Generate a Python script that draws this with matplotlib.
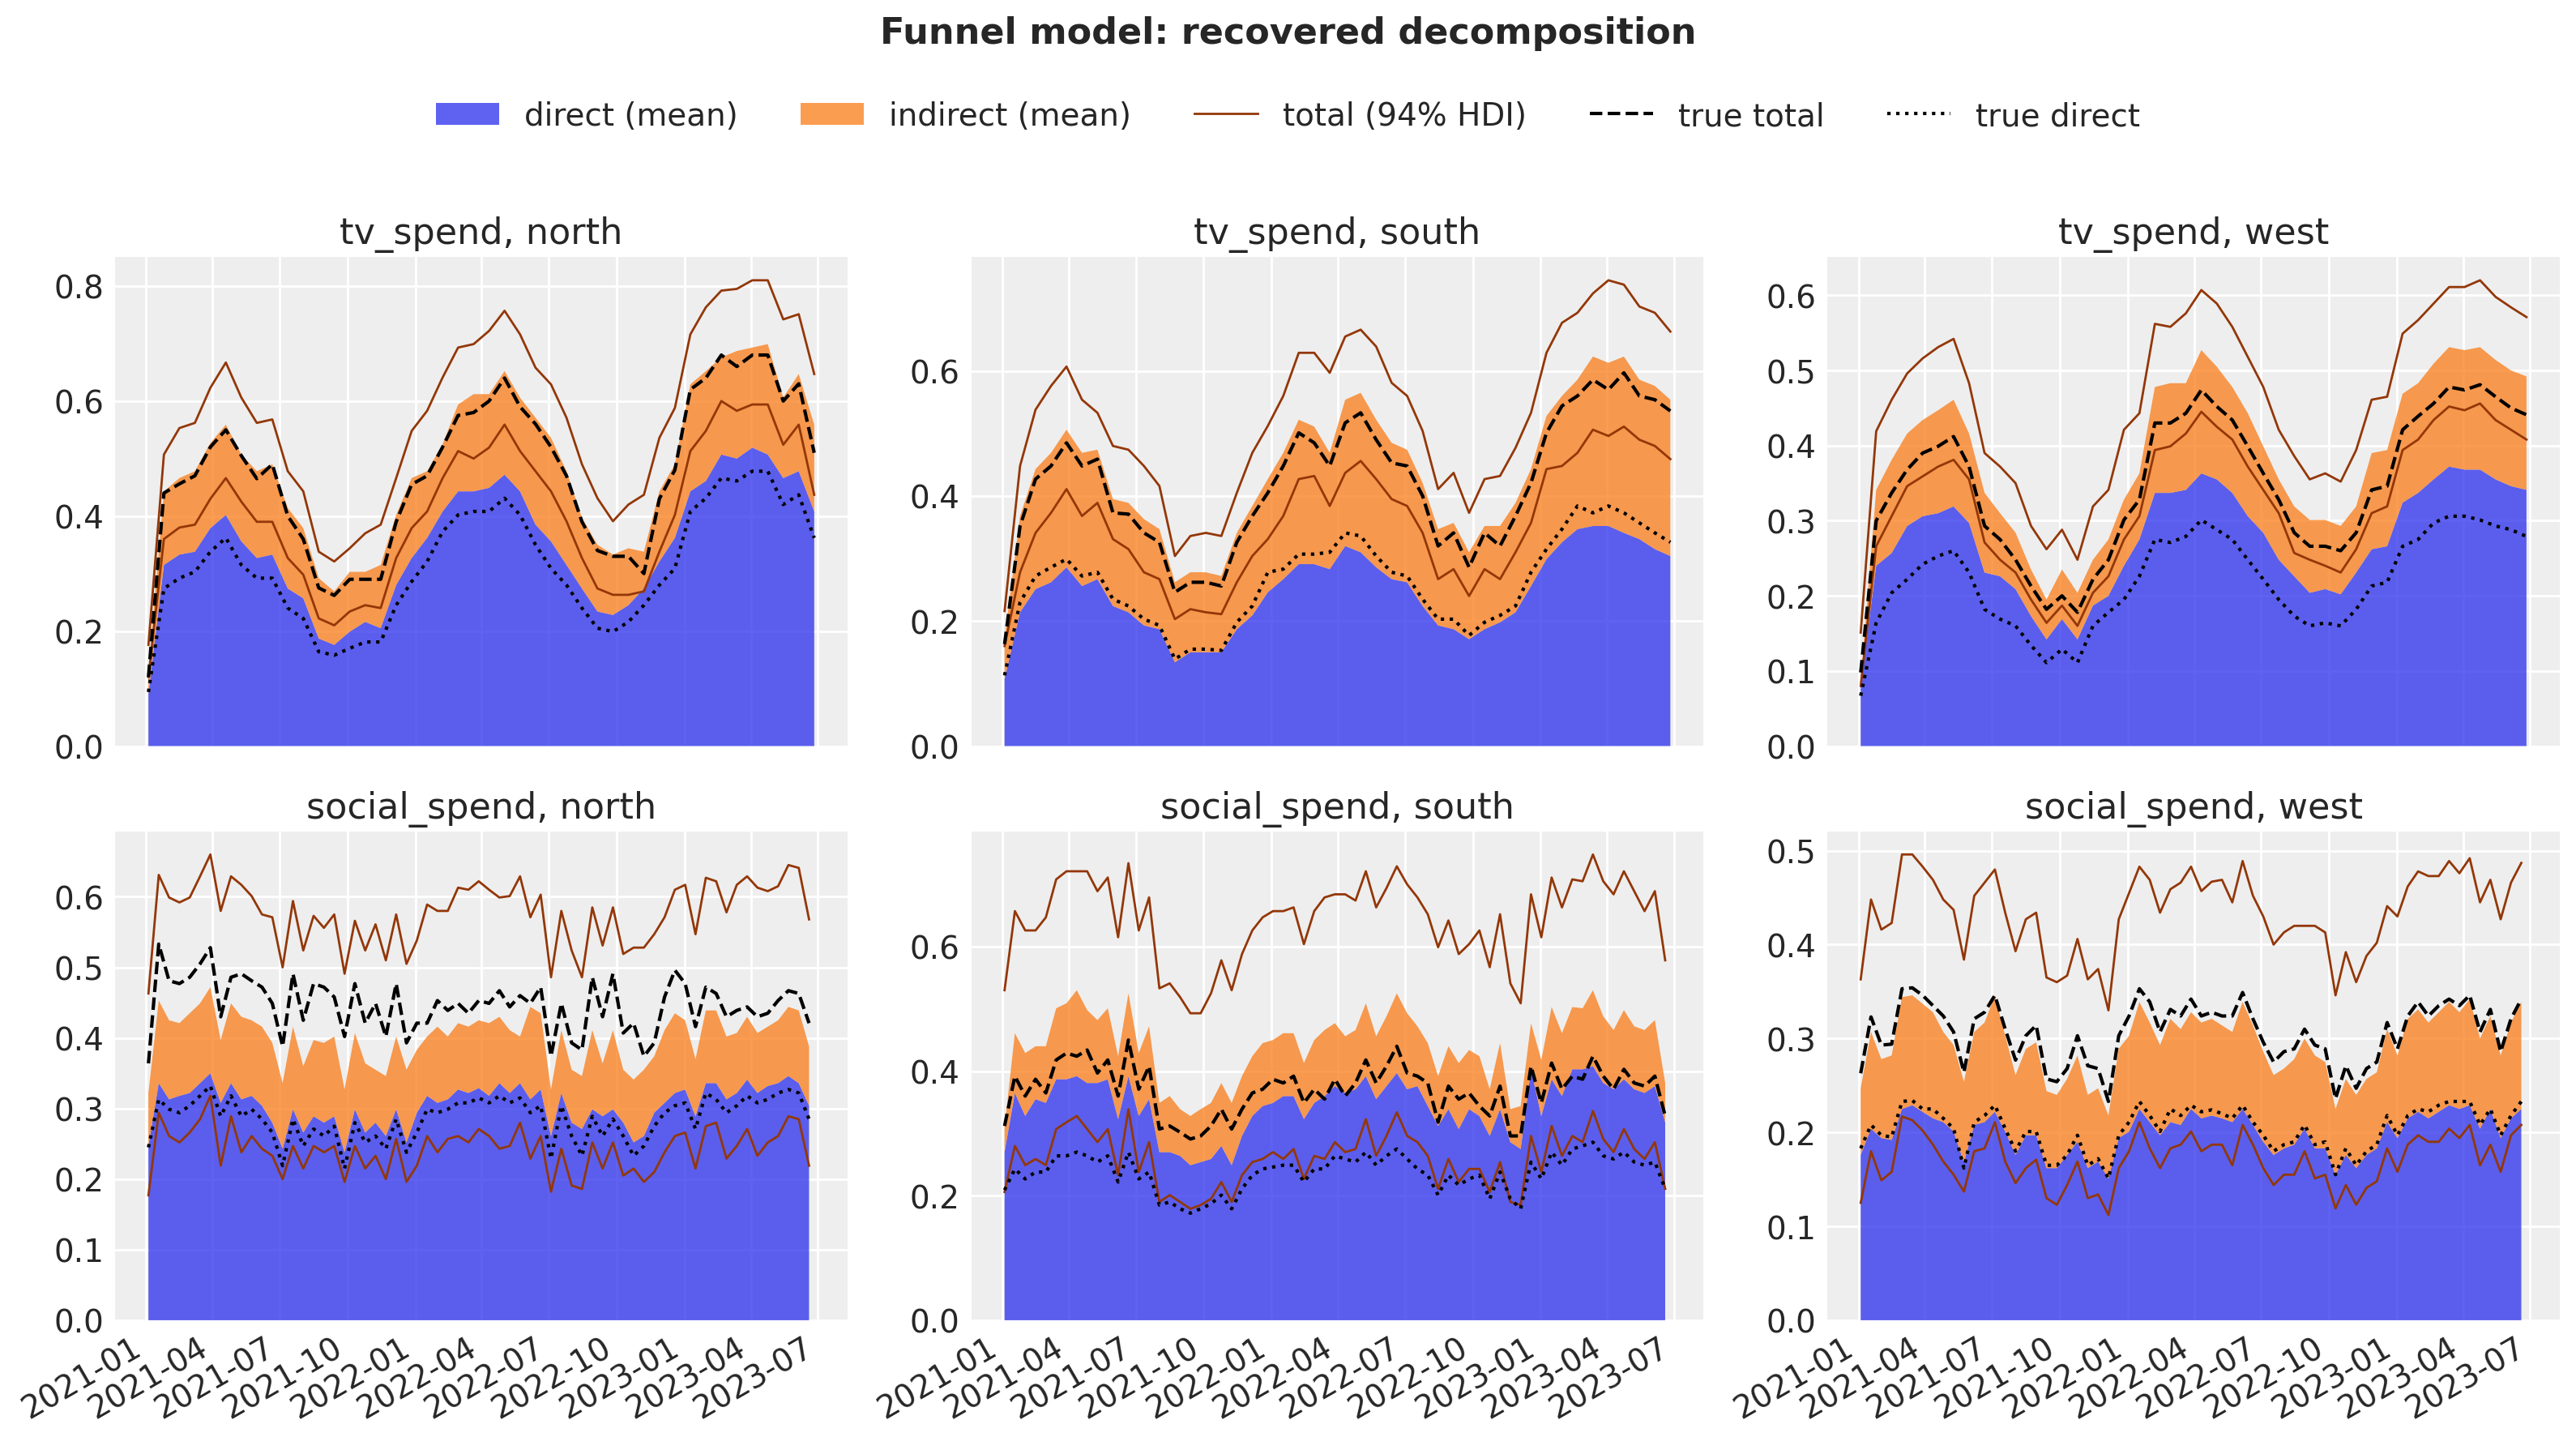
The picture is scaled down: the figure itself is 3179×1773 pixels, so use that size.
import pandas as pd
import matplotlib
matplotlib.use("Agg")
import matplotlib.pyplot as plt

# ---- style (dark grid, like arviz-darkgrid) ----
plt.rcParams.update({
    "font.family": ["DejaVu Sans"],
    "axes.facecolor": "#eeeeee",
    "axes.edgecolor": "white",
    "axes.grid": True,
    "axes.axisbelow": True,
    "grid.color": "white",
    "grid.linewidth": 1.0,
    "text.color": "0.15",
    "xtick.color": "0.15",
    "ytick.color": "0.15",
    "xtick.labelsize": 14,
    "ytick.labelsize": 14,
    "xtick.major.size": 0,
    "ytick.major.size": 0,
    "xtick.major.pad": 5,
    "ytick.major.pad": 5,
})

C_DIRECT = "#2a2eec"
C_INDIRECT = "#fa7c17"
C_HDI = "#933708"

# ---- dates: weekly series, tv read every 3 weeks, social every 2 weeks ----
weeks = pd.date_range("2021-01-04", periods=130, freq="7D")
tv_dates = weeks[::3]
social_dates = weeks[::2]

# ---- tv_spend, north ----
tv_north_direct = [0.09, 0.315, 0.333, 0.338, 0.379, 0.402, 0.356, 0.327, 0.333, 0.274, 0.257, 0.187, 0.176, 0.199, 0.216,
                   0.205, 0.28, 0.327, 0.362, 0.408, 0.443, 0.443, 0.449, 0.472, 0.443, 0.385, 0.356, 0.315, 0.274, 0.234,
                   0.228, 0.245, 0.274, 0.321, 0.362, 0.443, 0.461, 0.507, 0.50, 0.519, 0.507, 0.466, 0.478, 0.408]
tv_north_total = [0.13, 0.443, 0.466, 0.478, 0.527, 0.559, 0.507, 0.478, 0.49, 0.414, 0.379, 0.292, 0.269, 0.303, 0.303,
                  0.315, 0.402, 0.466, 0.478, 0.525, 0.594, 0.612, 0.612, 0.652, 0.606, 0.571, 0.536, 0.478, 0.397, 0.35,
                  0.333, 0.344, 0.338, 0.443, 0.49, 0.629, 0.652, 0.676, 0.687, 0.693, 0.699, 0.606, 0.647, 0.559]
tv_north_low = [0.12, 0.36, 0.38, 0.385, 0.43, 0.466, 0.425, 0.39, 0.39, 0.327, 0.298, 0.222, 0.21, 0.234, 0.245,
                0.24, 0.327, 0.379, 0.408, 0.466, 0.513, 0.50, 0.519, 0.559, 0.513, 0.478, 0.443, 0.391, 0.327, 0.274,
                0.263, 0.263, 0.269, 0.338, 0.402, 0.513, 0.548, 0.60, 0.583, 0.594, 0.594, 0.524, 0.559, 0.437]
tv_north_high = [0.176, 0.507, 0.553, 0.562, 0.623, 0.667, 0.606, 0.562, 0.568, 0.478, 0.443, 0.338, 0.321, 0.344, 0.370,
                 0.385, 0.466, 0.548, 0.583, 0.641, 0.693, 0.699, 0.722, 0.757, 0.716, 0.658, 0.629, 0.571, 0.490, 0.431,
                 0.391, 0.420, 0.437, 0.536, 0.588, 0.716, 0.763, 0.792, 0.795, 0.81, 0.81, 0.742, 0.751, 0.647]
tv_north_true_total = [0.12, 0.44, 0.456, 0.47, 0.52, 0.55, 0.505, 0.465, 0.49, 0.40, 0.36, 0.275, 0.262, 0.29, 0.29,
                       0.29, 0.39, 0.455, 0.47, 0.52, 0.575, 0.58, 0.60, 0.64, 0.59, 0.56, 0.52, 0.47, 0.39, 0.34,
                       0.33, 0.33, 0.30, 0.43, 0.48, 0.62, 0.64, 0.68, 0.66, 0.68, 0.68, 0.60, 0.63, 0.51]
tv_north_true_direct = [0.094, 0.274, 0.292, 0.303, 0.338, 0.362, 0.315, 0.292, 0.292, 0.24, 0.222, 0.164, 0.158, 0.17, 0.181,
                        0.181, 0.245, 0.286, 0.321, 0.373, 0.402, 0.408, 0.408, 0.431, 0.402, 0.35, 0.309, 0.28, 0.24, 0.205,
                        0.199, 0.216, 0.245, 0.28, 0.309, 0.408, 0.431, 0.466, 0.461, 0.478, 0.478, 0.42, 0.437, 0.362]

# ---- tv_spend, south ----
tv_south_direct = [0.107, 0.214, 0.251, 0.262, 0.286, 0.256, 0.267, 0.224, 0.214, 0.193, 0.187, 0.134, 0.15, 0.15, 0.15,
                   0.187, 0.209, 0.246, 0.267, 0.291, 0.291, 0.283, 0.32, 0.31, 0.286, 0.267, 0.262, 0.224, 0.193, 0.187,
                   0.171, 0.187, 0.198, 0.214, 0.256, 0.299, 0.326, 0.347, 0.352, 0.352, 0.341, 0.331, 0.315, 0.304]
tv_south_total = [0.171, 0.368, 0.443, 0.469, 0.506, 0.469, 0.474, 0.395, 0.389, 0.363, 0.347, 0.262, 0.278, 0.278, 0.272,
                  0.341, 0.384, 0.427, 0.469, 0.522, 0.511, 0.469, 0.554, 0.565, 0.522, 0.485, 0.474, 0.421, 0.347, 0.357,
                  0.31, 0.352, 0.352, 0.389, 0.443, 0.528, 0.56, 0.586, 0.623, 0.613, 0.623, 0.586, 0.576, 0.554]
tv_south_low = [0.16, 0.278, 0.341, 0.373, 0.411, 0.368, 0.389, 0.331, 0.315, 0.278, 0.267, 0.203, 0.219, 0.214, 0.211,
                0.262, 0.304, 0.331, 0.368, 0.427, 0.432, 0.384, 0.437, 0.456, 0.427, 0.395, 0.384, 0.341, 0.267, 0.283,
                0.24, 0.283, 0.267, 0.31, 0.357, 0.443, 0.448, 0.469, 0.506, 0.496, 0.511, 0.49, 0.48, 0.459]
tv_south_high = [0.216, 0.448, 0.538, 0.576, 0.607, 0.554, 0.533, 0.48, 0.474, 0.448, 0.416, 0.304, 0.336, 0.341, 0.336,
                 0.405, 0.469, 0.512, 0.56, 0.629, 0.629, 0.597, 0.655, 0.666, 0.639, 0.581, 0.56, 0.504, 0.411, 0.437,
                 0.373, 0.427, 0.432, 0.477, 0.533, 0.629, 0.677, 0.693, 0.724, 0.745, 0.738, 0.703, 0.693, 0.663]
tv_south_true_total = [0.163, 0.352, 0.427, 0.448, 0.485, 0.448, 0.459, 0.373, 0.371, 0.341, 0.326, 0.246, 0.262, 0.262, 0.256,
                       0.326, 0.368, 0.405, 0.448, 0.501, 0.485, 0.448, 0.517, 0.533, 0.49, 0.453, 0.448, 0.40, 0.32, 0.341,
                       0.286, 0.341, 0.32, 0.368, 0.421, 0.501, 0.544, 0.56, 0.586, 0.57, 0.597, 0.56, 0.554, 0.536]
tv_south_true_direct = [0.113, 0.23, 0.272, 0.286, 0.299, 0.272, 0.278, 0.235, 0.224, 0.203, 0.193, 0.139, 0.155, 0.155, 0.153,
                        0.198, 0.224, 0.278, 0.283, 0.307, 0.307, 0.31, 0.341, 0.336, 0.304, 0.278, 0.272, 0.235, 0.203, 0.203,
                        0.177, 0.198, 0.209, 0.224, 0.278, 0.315, 0.347, 0.384, 0.373, 0.384, 0.373, 0.357, 0.341, 0.326]

# ---- tv_spend, west ----
tv_west_direct = [0.08, 0.24, 0.257, 0.293, 0.306, 0.31, 0.319, 0.297, 0.231, 0.226, 0.209, 0.173, 0.142, 0.169, 0.142,
                  0.187, 0.20, 0.24, 0.275, 0.337, 0.337, 0.341, 0.363, 0.355, 0.337, 0.306, 0.284, 0.248, 0.226, 0.204,
                  0.209, 0.202, 0.231, 0.262, 0.266, 0.324, 0.337, 0.355, 0.372, 0.368, 0.368, 0.355, 0.346, 0.341]
tv_west_total = [0.085, 0.341, 0.381, 0.416, 0.434, 0.447, 0.461, 0.416, 0.337, 0.31, 0.284, 0.235, 0.195, 0.235, 0.204,
                 0.248, 0.275, 0.328, 0.363, 0.478, 0.483, 0.483, 0.527, 0.505, 0.478, 0.443, 0.399, 0.355, 0.319, 0.301,
                 0.301, 0.293, 0.319, 0.39, 0.394, 0.469, 0.483, 0.509, 0.531, 0.527, 0.531, 0.514, 0.50, 0.492]
tv_west_low = [0.08, 0.266, 0.306, 0.346, 0.359, 0.372, 0.381, 0.355, 0.271, 0.248, 0.231, 0.195, 0.164, 0.187, 0.16,
               0.204, 0.226, 0.275, 0.306, 0.394, 0.399, 0.416, 0.445, 0.425, 0.408, 0.372, 0.341, 0.31, 0.257, 0.248,
               0.24, 0.231, 0.262, 0.31, 0.319, 0.394, 0.408, 0.434, 0.452, 0.447, 0.456, 0.434, 0.421, 0.408]
tv_west_high = [0.151, 0.419, 0.461, 0.496, 0.516, 0.531, 0.542, 0.483, 0.39, 0.372, 0.35, 0.293, 0.262, 0.288, 0.248,
                0.319, 0.341, 0.421, 0.443, 0.562, 0.558, 0.576, 0.607, 0.589, 0.558, 0.518, 0.478, 0.421, 0.386, 0.355,
                0.363, 0.352, 0.394, 0.461, 0.465, 0.549, 0.567, 0.589, 0.611, 0.611, 0.62, 0.598, 0.584, 0.571]
tv_west_true_total = [0.098, 0.30, 0.337, 0.368, 0.39, 0.399, 0.412, 0.372, 0.293, 0.275, 0.248, 0.213, 0.182, 0.20, 0.178,
                      0.222, 0.248, 0.301, 0.328, 0.43, 0.43, 0.443, 0.474, 0.452, 0.434, 0.399, 0.363, 0.328, 0.284, 0.266,
                      0.266, 0.26, 0.284, 0.341, 0.346, 0.421, 0.439, 0.456, 0.478, 0.474, 0.481, 0.465, 0.45, 0.441]
tv_west_true_direct = [0.067, 0.164, 0.204, 0.222, 0.242, 0.253, 0.26, 0.231, 0.182, 0.169, 0.16, 0.134, 0.111, 0.129, 0.111,
                       0.16, 0.178, 0.195, 0.226, 0.275, 0.271, 0.279, 0.301, 0.288, 0.275, 0.248, 0.222, 0.195, 0.173, 0.16,
                       0.164, 0.16, 0.182, 0.213, 0.218, 0.266, 0.275, 0.297, 0.306, 0.306, 0.301, 0.293, 0.288, 0.279]

# ---- social_spend, north ----
social_north_direct = [0.247, 0.336, 0.313, 0.318, 0.322, 0.336, 0.35, 0.308, 0.336, 0.313, 0.318, 0.304, 0.28, 0.243, 0.299,
                       0.266, 0.289, 0.28, 0.289, 0.238, 0.299, 0.266, 0.28, 0.261, 0.299, 0.252, 0.294, 0.318, 0.308, 0.313,
                       0.327, 0.322, 0.329, 0.318, 0.336, 0.322, 0.336, 0.313, 0.327, 0.261, 0.322, 0.28, 0.271, 0.299,
                       0.289, 0.299, 0.28, 0.252, 0.261, 0.294, 0.308, 0.322, 0.327, 0.289, 0.336, 0.336, 0.313, 0.322,
                       0.341, 0.322, 0.332, 0.336, 0.346, 0.336, 0.304]
social_north_total = [0.322, 0.453, 0.425, 0.421, 0.435, 0.449, 0.472, 0.397, 0.449, 0.43, 0.425, 0.416, 0.393, 0.336, 0.416,
                      0.36, 0.397, 0.393, 0.402, 0.327, 0.407, 0.364, 0.355, 0.346, 0.402, 0.355, 0.383, 0.402, 0.416, 0.402,
                      0.421, 0.416, 0.425, 0.421, 0.43, 0.411, 0.402, 0.444, 0.435, 0.327, 0.411, 0.355, 0.346, 0.411,
                      0.364, 0.411, 0.355, 0.341, 0.355, 0.374, 0.411, 0.435, 0.425, 0.37, 0.439, 0.439, 0.402, 0.407,
                      0.43, 0.407, 0.416, 0.425, 0.444, 0.439, 0.388]
social_north_low = [0.177, 0.294, 0.261, 0.252, 0.266, 0.285, 0.318, 0.219, 0.289, 0.238, 0.261, 0.243, 0.233, 0.20, 0.247,
                    0.215, 0.247, 0.238, 0.247, 0.196, 0.247, 0.215, 0.233, 0.20, 0.257, 0.196, 0.219, 0.261, 0.238, 0.257,
                    0.261, 0.252, 0.271, 0.261, 0.243, 0.247, 0.28, 0.229, 0.261, 0.182, 0.243, 0.191, 0.186, 0.252,
                    0.215, 0.252, 0.205, 0.215, 0.196, 0.21, 0.238, 0.261, 0.266, 0.215, 0.275, 0.28, 0.229, 0.247,
                    0.271, 0.233, 0.252, 0.261, 0.289, 0.285, 0.219]
social_north_high = [0.463, 0.631, 0.599, 0.592, 0.599, 0.629, 0.66, 0.58, 0.629, 0.617, 0.601, 0.575, 0.571, 0.50, 0.594,
                     0.524, 0.573, 0.556, 0.575, 0.491, 0.566, 0.524, 0.561, 0.51, 0.575, 0.505, 0.538, 0.589, 0.58, 0.58,
                     0.613, 0.61, 0.622, 0.61, 0.599, 0.601, 0.629, 0.571, 0.603, 0.486, 0.58, 0.524, 0.486, 0.585,
                     0.531, 0.585, 0.519, 0.528, 0.528, 0.547, 0.571, 0.61, 0.617, 0.547, 0.627, 0.622, 0.578, 0.617,
                     0.629, 0.613, 0.608, 0.615, 0.645, 0.641, 0.568]
social_north_true_total = [0.364, 0.533, 0.481, 0.477, 0.486, 0.505, 0.528, 0.43, 0.486, 0.491, 0.481, 0.472, 0.449, 0.388,
                           0.491, 0.425, 0.477, 0.472, 0.458, 0.402, 0.477, 0.421, 0.449, 0.402, 0.477, 0.393, 0.421, 0.421,
                           0.453, 0.439, 0.449, 0.435, 0.453, 0.449, 0.467, 0.444, 0.46, 0.449, 0.472, 0.374, 0.449, 0.393,
                           0.383, 0.486, 0.43, 0.491, 0.407, 0.421, 0.374, 0.393, 0.458, 0.496, 0.477, 0.416, 0.472, 0.463,
                           0.43, 0.439, 0.444, 0.43, 0.435, 0.453, 0.467, 0.463, 0.421]
social_north_true_direct = [0.245, 0.313, 0.299, 0.294, 0.304, 0.318, 0.332, 0.289, 0.318, 0.289, 0.299, 0.285, 0.266, 0.219,
                            0.285, 0.247, 0.271, 0.261, 0.275, 0.215, 0.28, 0.252, 0.261, 0.243, 0.285, 0.238, 0.266, 0.299,
                            0.294, 0.299, 0.308, 0.308, 0.315, 0.308, 0.318, 0.308, 0.315, 0.294, 0.304, 0.229, 0.304, 0.261,
                            0.233, 0.289, 0.261, 0.285, 0.261, 0.233, 0.247, 0.275, 0.294, 0.304, 0.308, 0.271, 0.322, 0.313,
                            0.294, 0.304, 0.318, 0.308, 0.313, 0.322, 0.327, 0.322, 0.285]

# ---- social_spend, south ----
social_south_direct = [0.27, 0.365, 0.328, 0.355, 0.349, 0.387, 0.387, 0.392, 0.381, 0.381, 0.387, 0.323, 0.392, 0.328, 0.355,
                       0.27, 0.27, 0.264, 0.249, 0.254, 0.259, 0.28, 0.249, 0.296, 0.328, 0.344, 0.349, 0.36, 0.36, 0.323,
                       0.349, 0.36, 0.376, 0.365, 0.371, 0.392, 0.355, 0.376, 0.397, 0.371, 0.376, 0.344, 0.312, 0.339,
                       0.307, 0.339, 0.328, 0.296, 0.339, 0.286, 0.275, 0.403, 0.328, 0.387, 0.36, 0.403, 0.403, 0.408,
                       0.381, 0.371, 0.387, 0.371, 0.365, 0.376, 0.318]
social_south_total = [0.31, 0.461, 0.429, 0.44, 0.44, 0.501, 0.509, 0.53, 0.498, 0.482, 0.501, 0.424, 0.525, 0.429, 0.472,
                      0.349, 0.36, 0.339, 0.328, 0.339, 0.349, 0.381, 0.349, 0.392, 0.424, 0.445, 0.45, 0.461, 0.461, 0.413,
                      0.45, 0.466, 0.477, 0.456, 0.466, 0.509, 0.456, 0.488, 0.525, 0.493, 0.472, 0.445, 0.392, 0.44,
                      0.413, 0.434, 0.424, 0.371, 0.445, 0.339, 0.344, 0.477, 0.418, 0.503, 0.461, 0.503, 0.501, 0.53,
                      0.488, 0.466, 0.498, 0.472, 0.466, 0.482, 0.381]
social_south_low = [0.206, 0.28, 0.249, 0.259, 0.249, 0.307, 0.318, 0.328, 0.307, 0.286, 0.307, 0.233, 0.339, 0.238, 0.286,
                    0.19, 0.201, 0.19, 0.179, 0.185, 0.195, 0.222, 0.19, 0.233, 0.254, 0.259, 0.27, 0.259, 0.275, 0.227,
                    0.264, 0.259, 0.286, 0.27, 0.275, 0.323, 0.264, 0.296, 0.334, 0.296, 0.286, 0.264, 0.211, 0.259,
                    0.222, 0.243, 0.243, 0.206, 0.254, 0.19, 0.185, 0.296, 0.238, 0.312, 0.264, 0.296, 0.286, 0.336,
                    0.291, 0.27, 0.307, 0.275, 0.259, 0.286, 0.211]
social_south_high = [0.53, 0.657, 0.626, 0.626, 0.647, 0.708, 0.721, 0.721, 0.721, 0.689, 0.711, 0.615, 0.734, 0.626, 0.679,
                     0.533, 0.541, 0.519, 0.493, 0.493, 0.525, 0.578, 0.53, 0.588, 0.626, 0.647, 0.657, 0.657, 0.663, 0.604,
                     0.657, 0.679, 0.684, 0.684, 0.674, 0.721, 0.663, 0.694, 0.729, 0.70, 0.679, 0.652, 0.599, 0.642,
                     0.588, 0.604, 0.626, 0.567, 0.652, 0.541, 0.509, 0.684, 0.615, 0.711, 0.663, 0.708, 0.705, 0.748,
                     0.705, 0.684, 0.721, 0.689, 0.657, 0.689, 0.578]
social_south_true_total = [0.312, 0.392, 0.36, 0.387, 0.365, 0.418, 0.429, 0.424, 0.434, 0.397, 0.418, 0.36, 0.45, 0.371,
                           0.408, 0.307, 0.312, 0.302, 0.291, 0.296, 0.312, 0.339, 0.307, 0.339, 0.365, 0.371, 0.387, 0.381,
                           0.392, 0.349, 0.371, 0.355, 0.387, 0.36, 0.381, 0.418, 0.381, 0.408, 0.44, 0.397, 0.392, 0.381,
                           0.318, 0.376, 0.355, 0.365, 0.344, 0.328, 0.376, 0.296, 0.296, 0.408, 0.349, 0.413, 0.371, 0.392,
                           0.387, 0.424, 0.392, 0.371, 0.403, 0.381, 0.376, 0.392, 0.328]
social_south_true_direct = [0.209, 0.243, 0.227, 0.238, 0.238, 0.264, 0.264, 0.27, 0.264, 0.254, 0.264, 0.222, 0.27, 0.227,
                            0.238, 0.185, 0.19, 0.179, 0.172, 0.179, 0.187, 0.201, 0.179, 0.211, 0.233, 0.243, 0.246, 0.249,
                            0.249, 0.222, 0.243, 0.243, 0.264, 0.259, 0.254, 0.27, 0.249, 0.264, 0.275, 0.259, 0.243, 0.233,
                            0.201, 0.233, 0.217, 0.227, 0.233, 0.195, 0.238, 0.195, 0.179, 0.254, 0.227, 0.27, 0.249, 0.275,
                            0.28, 0.286, 0.264, 0.259, 0.27, 0.254, 0.249, 0.254, 0.211]

# ---- social_spend, west ----
social_west_direct = [0.176, 0.204, 0.194, 0.192, 0.225, 0.229, 0.222, 0.215, 0.211, 0.201, 0.168, 0.208, 0.211, 0.222, 0.201,
                      0.176, 0.197, 0.197, 0.162, 0.162, 0.176, 0.19, 0.162, 0.169, 0.151, 0.194, 0.201, 0.225, 0.211, 0.197,
                      0.211, 0.208, 0.225, 0.215, 0.218, 0.215, 0.211, 0.225, 0.208, 0.19, 0.176, 0.183, 0.187, 0.204,
                      0.183, 0.183, 0.155, 0.176, 0.162, 0.176, 0.183, 0.211, 0.194, 0.215, 0.222, 0.215, 0.222, 0.229,
                      0.225, 0.229, 0.204, 0.225, 0.194, 0.215, 0.225]
social_west_total = [0.247, 0.307, 0.278, 0.282, 0.344, 0.346, 0.337, 0.328, 0.307, 0.293, 0.254, 0.307, 0.317, 0.346, 0.303,
                     0.261, 0.289, 0.296, 0.244, 0.24, 0.257, 0.282, 0.24, 0.247, 0.218, 0.289, 0.303, 0.339, 0.317, 0.293,
                     0.321, 0.31, 0.328, 0.317, 0.321, 0.314, 0.307, 0.339, 0.314, 0.286, 0.261, 0.268, 0.278, 0.30,
                     0.282, 0.275, 0.225, 0.257, 0.24, 0.257, 0.264, 0.31, 0.282, 0.321, 0.331, 0.317, 0.328, 0.339,
                     0.328, 0.342, 0.30, 0.324, 0.282, 0.317, 0.339]
social_west_low = [0.125, 0.18, 0.149, 0.158, 0.217, 0.213, 0.202, 0.187, 0.169, 0.155, 0.137, 0.18, 0.183, 0.211, 0.169,
                   0.146, 0.162, 0.171, 0.13, 0.123, 0.144, 0.169, 0.13, 0.134, 0.112, 0.162, 0.18, 0.211, 0.183, 0.162,
                   0.183, 0.187, 0.201, 0.18, 0.187, 0.187, 0.165, 0.208, 0.187, 0.162, 0.144, 0.155, 0.155, 0.18,
                   0.151, 0.155, 0.119, 0.144, 0.123, 0.141, 0.148, 0.183, 0.158, 0.187, 0.197, 0.19, 0.19, 0.204,
                   0.194, 0.208, 0.165, 0.187, 0.158, 0.197, 0.208]
social_west_high = [0.363, 0.448, 0.416, 0.423, 0.496, 0.496, 0.483, 0.469, 0.448, 0.437, 0.384, 0.452, 0.466, 0.48, 0.434,
                    0.393, 0.427, 0.434, 0.365, 0.36, 0.367, 0.406, 0.363, 0.374, 0.33, 0.427, 0.455, 0.483, 0.469, 0.434,
                    0.459, 0.466, 0.483, 0.457, 0.467, 0.469, 0.445, 0.489, 0.452, 0.43, 0.40, 0.413, 0.42, 0.42,
                    0.42, 0.413, 0.346, 0.392, 0.36, 0.388, 0.402, 0.441, 0.43, 0.462, 0.478, 0.473, 0.473, 0.489,
                    0.476, 0.492, 0.445, 0.469, 0.427, 0.466, 0.487]
social_west_true_total = [0.263, 0.323, 0.293, 0.294, 0.353, 0.354, 0.346, 0.335, 0.324, 0.307, 0.264, 0.321, 0.328, 0.346,
                          0.31, 0.277, 0.303, 0.314, 0.257, 0.254, 0.268, 0.303, 0.271, 0.268, 0.233, 0.303, 0.324, 0.353,
                          0.339, 0.307, 0.331, 0.324, 0.342, 0.324, 0.328, 0.324, 0.324, 0.349, 0.321, 0.296, 0.275, 0.286,
                          0.289, 0.31, 0.293, 0.289, 0.236, 0.271, 0.247, 0.268, 0.275, 0.317, 0.289, 0.324, 0.339, 0.324,
                          0.335, 0.342, 0.335, 0.346, 0.307, 0.331, 0.286, 0.321, 0.342]
social_west_true_direct = [0.183, 0.208, 0.197, 0.195, 0.233, 0.234, 0.225, 0.225, 0.215, 0.204, 0.162, 0.211, 0.218, 0.229,
                           0.204, 0.18, 0.201, 0.201, 0.165, 0.165, 0.176, 0.197, 0.165, 0.172, 0.151, 0.197, 0.211, 0.233,
                           0.218, 0.201, 0.225, 0.218, 0.229, 0.222, 0.224, 0.22, 0.215, 0.229, 0.211, 0.197, 0.18, 0.187,
                           0.19, 0.208, 0.187, 0.19, 0.155, 0.183, 0.165, 0.18, 0.187, 0.218, 0.197, 0.218, 0.225, 0.222,
                           0.229, 0.233, 0.233, 0.233, 0.208, 0.225, 0.197, 0.218, 0.233]

panels = [
    ("tv_spend, north", tv_dates, tv_north_direct, tv_north_total, tv_north_low, tv_north_high,
     tv_north_true_total, tv_north_true_direct),
    ("tv_spend, south", tv_dates, tv_south_direct, tv_south_total, tv_south_low, tv_south_high,
     tv_south_true_total, tv_south_true_direct),
    ("tv_spend, west", tv_dates, tv_west_direct, tv_west_total, tv_west_low, tv_west_high,
     tv_west_true_total, tv_west_true_direct),
    ("social_spend, north", social_dates, social_north_direct, social_north_total, social_north_low,
     social_north_high, social_north_true_total, social_north_true_direct),
    ("social_spend, south", social_dates, social_south_direct, social_south_total, social_south_low,
     social_south_high, social_south_true_total, social_south_true_direct),
    ("social_spend, west", social_dates, social_west_direct, social_west_total, social_west_low,
     social_west_high, social_west_true_total, social_west_true_direct),
]

# ---- figure ----
fig, axes = plt.subplots(2, 3, figsize=(15.895, 8.87), dpi=200, sharex=True)
fig.subplots_adjust(left=0.0447, right=0.9937, bottom=0.0812, top=0.8207, wspace=0.169, hspace=0.174)

for ax, (title, dates, direct, total, low, high, true_total, true_direct) in zip(axes.flat, panels):
    indirect = [t - d for t, d in zip(total, direct)]
    ax.stackplot(dates, direct, indirect, colors=[C_DIRECT, C_INDIRECT], alpha=0.75,
                 labels=["direct (mean)", "indirect (mean)"])
    ax.plot(dates, low, color=C_HDI, lw=1.0, label="total (94% HDI)")
    ax.plot(dates, high, color=C_HDI, lw=1.0)
    ax.plot(dates, true_total, color="black", ls="--", lw=1.5, label="true total")
    ax.plot(dates, true_direct, color="black", ls=":", lw=1.5, label="true direct")
    ax.set_title(title, fontsize=16)
    for side in ax.spines.values():
        side.set_visible(False)

for ax in axes[1]:
    plt.setp(ax.get_xticklabels(), rotation=30, ha="right")

handles, labels = axes[0, 0].get_legend_handles_labels()
fig.legend(handles, labels, loc="center", bbox_to_anchor=(0.5, 0.9188), ncol=5, frameon=False, fontsize=14)
fig.suptitle("Funnel model: recovered decomposition", fontsize=16, fontweight="bold", y=0.9768, va="center")

fig.savefig("out.png", dpi=200)
plt.close(fig)
